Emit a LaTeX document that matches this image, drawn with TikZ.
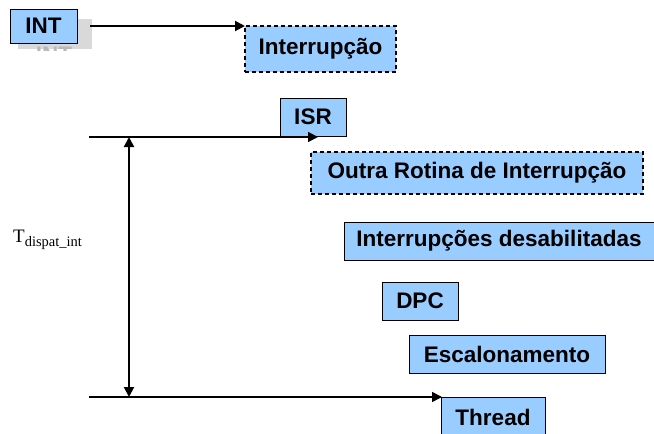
\documentclass[tikz,border=0pt]{standalone}
\usepackage{fontspec}
\setmainfont{Liberation Sans}
\newfontfamily\serifT{Liberation Serif}
\usetikzlibrary{arrows.meta}
\definecolor{boxblue}{HTML}{99CCFF}
\begin{document}
\begin{tikzpicture}[x=1pt,y=-1pt,
  bx/.style={draw=black, line width=1pt, fill=boxblue, inner sep=0pt, font=\bfseries\fontsize{22.5}{24}\selectfont},
  dbx/.style={bx, dash pattern=on 4pt off 3pt, line width=2pt},
  conn/.style={line width=1.5pt, -{Triangle[length=10pt,width=10pt]}}]
\useasboundingbox (0,0) rectangle (654,434);
% shadow of INT
\fill[black!15] (18,19) rectangle (92,49);
\begin{scope}
\clip (18,43) rectangle (92,50);
\node[text=black!28, font=\bfseries\fontsize{22.5}{24}\selectfont] at (54,55) {INT};
\end{scope}
\node[bx, minimum width=67pt, minimum height=34pt] (int) at (43.5,26) {INT};
\node[dbx, minimum width=151pt, minimum height=46pt] (intr) at (320.5,49) {Interrupção};
\node[bx, minimum width=66pt, minimum height=38pt] (isr) at (313,117) {ISR};
\node[dbx, minimum width=332pt, minimum height=42pt] (outra) at (477,173) {Outra Rotina de Interrupção};
\node[bx, minimum width=310pt, minimum height=38pt] (desab) at (499,241) {Interrupções desabilitadas};
\node[bx, minimum width=76pt, minimum height=38pt] (dpc) at (420,301) {DPC};
\node[bx, minimum width=196pt, minimum height=38pt] (esc) at (507,354) {Escalonamento};
\node[bx, minimum width=104pt, minimum height=40pt] (thr) at (493,417) {Thread};
\coordinate (a0) at (90,26);
\coordinate (a1) at (245,26);
\draw[conn, line width=2pt] (a0) -- (a1);
\coordinate (t0) at (89,137);
\coordinate (t1) at (318,137);
\draw[conn] (t0) -- (t1);
\coordinate (b0) at (89,397);
\coordinate (b1) at (442,397);
\draw[conn] (b0) -- (b1);
\coordinate (v0) at (129,137);
\coordinate (v1) at (129,397);
\draw[line width=2pt, {Triangle[length=10pt,width=10pt]}-{Triangle[length=10pt,width=10pt]}] (v0) -- (v1);
\node[anchor=base west, inner sep=0pt, font=\serifT\fontsize{19}{20}\selectfont] (td) at (13,242.5) {T\raisebox{-3.5pt}{\fontsize{14.5}{16}\selectfont dispat\_int}};
\end{tikzpicture}
\end{document}
